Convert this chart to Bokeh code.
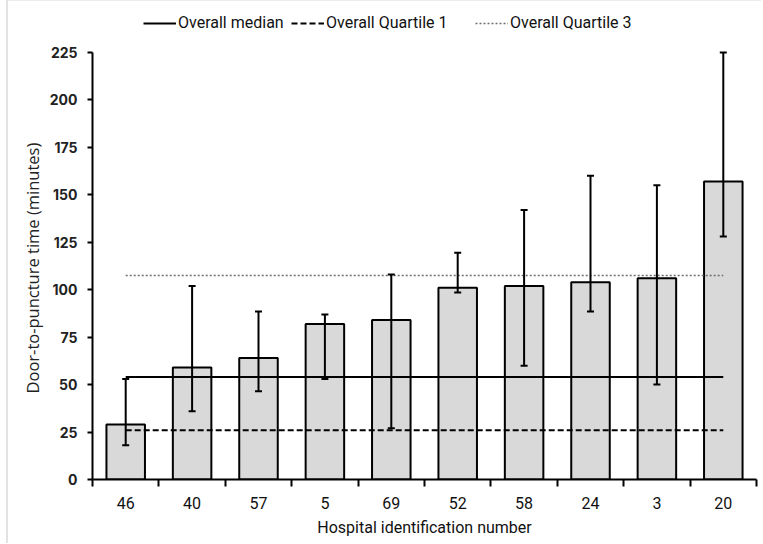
from bokeh.plotting import figure
from bokeh.models import (ColumnDataSource, Range1d, FixedTicker, Whisker, TeeHead,
                          Legend, LegendItem, Title)
from bokeh.embed import file_html
from bokeh.resources import INLINE

# ---- data ----
hospitals = ["46", "40", "57", "5", "69", "52", "58", "24", "3", "20"]
median_time = [29, 59, 64, 82, 84, 101, 102, 104, 106, 157]
q1_time = [18, 36, 46.5, 53, 27, 98.5, 60, 88.5, 50, 128]
q3_time = [53, 102, 88.5, 87, 108, 119.5, 142, 160, 155, 225]
overall_median = 54
overall_q1 = 26
overall_q3 = 107.5
y_ticks = [0, 25, 50, 75, 100, 125, 150, 175, 200, 225]
y_max = 225
legend_labels = ["Overall median", "Overall Quartile 1", "Overall Quartile 3"]

n = len(hospitals)
xs = [i + 0.5 for i in range(n)]

src = ColumnDataSource(dict(x=xs, top=median_time, lower=q1_time, upper=q3_time))

# frame spans the whole height; the axis itself stops at y_max (427 px above bottom)
frame_h = 478
axis_px = 427
y_top = y_max * frame_h / axis_px

p = figure(width=755, height=543, output_backend="svg", toolbar_location=None,
           x_range=Range1d(0, n), y_range=Range1d(0, y_top),
           min_border_left=84, min_border_right=7, min_border_top=0, min_border_bottom=65)
p.styles = {"margin-left": "6px", "border-left": "2px solid #e3e3e3",
            "border-top": "1px solid #ececec", "border-right": "none",
            "border-bottom": "none"}
p.outline_line_color = None
p.xgrid.visible = False
p.ygrid.visible = False
p.background_fill_color = "white"
p.border_fill_color = "white"

p.vbar(x="x", top="top", width=0.58, bottom=0, source=src,
       fill_color="#d9d9d9", line_color="black", line_width=2)

line_x = [xs[0], xs[-1]]
r_med = p.line(line_x, [overall_median, overall_median], line_color="black", line_width=2)
r_q1 = p.line(line_x, [overall_q1, overall_q1], line_color="black", line_width=2,
              line_dash="6 3")
r_q3 = p.line(line_x, [overall_q3, overall_q3], line_color="#6e6e6e", line_width=1.6,
              line_dash="2 2")

wh = Whisker(base="x", lower="lower", upper="upper", source=src,
             line_color="black", line_width=2, level="overlay",
             upper_head=TeeHead(size=7, line_width=2, line_color="black"),
             lower_head=TeeHead(size=7, line_width=2, line_color="black"))
p.add_layout(wh)

# x axis
xa = p.xaxis[0]
xa.ticker = FixedTicker(ticks=xs, minor_ticks=list(range(n + 1)))
xa.major_label_overrides = {x: h for x, h in zip(xs, hospitals)}
xa.major_tick_out = 0
xa.major_tick_in = 0
xa.minor_tick_out = 7
xa.minor_tick_in = 0
xa.minor_tick_line_color = "black"
xa.minor_tick_line_width = 2
xa.axis_line_color = "black"
xa.axis_line_width = 2
xa.major_label_text_font = "Roboto"
xa.major_label_text_font_size = "16px"
xa.major_label_text_color = "#111111"
xa.major_label_standoff = 10
xa.axis_label = "Hospital identification number"
xa.axis_label_text_font = "Roboto"
xa.axis_label_text_font_size = "16px"
xa.axis_label_text_font_style = "normal"
xa.axis_label_text_color = "#111111"
xa.axis_label_standoff = 6

ya = p.yaxis[0]
ya.ticker = FixedTicker(ticks=y_ticks)
ya.bounds = (0, y_max)
ya.minor_tick_line_color = None
ya.major_tick_out = 5
ya.major_tick_in = 0
ya.major_tick_line_width = 2
ya.major_tick_line_color = "black"
ya.axis_line_color = "black"
ya.axis_line_width = 2
ya.major_label_text_font = "Inter"
ya.major_label_text_font_size = "14px"
ya.major_label_text_font_style = "bold"
ya.major_label_text_color = "#222222"
ya.major_label_standoff = 10

# y-axis title as a side title, so it can be centred on the 0-225 span
ytitle = Title(text="Door-to-puncture time (minutes)", align="left", offset=86,
               vertical_align="middle", text_font="Open Sans", text_font_size="16.5px",
               text_font_style="normal", text_color="#222222", standoff=4)
p.add_layout(ytitle, "left")

renderers = [r_med, r_q1, r_q3]
legend_x = [51, 199, 383]
for lab, r, lx in zip(legend_labels, renderers, legend_x):
    lg = Legend(items=[LegendItem(label=lab, renderers=[r])],
                orientation="horizontal", location=(lx, 447),
                label_text_font="Roboto", label_text_font_size="16px",
                label_text_color="#111111",
                glyph_width=33, glyph_height=16, label_standoff=2, spacing=0,
                padding=0, margin=0, border_line_color=None,
                background_fill_alpha=0)
    p.add_layout(lg, "center")

open("out.html", "w").write(file_html(p, INLINE))
